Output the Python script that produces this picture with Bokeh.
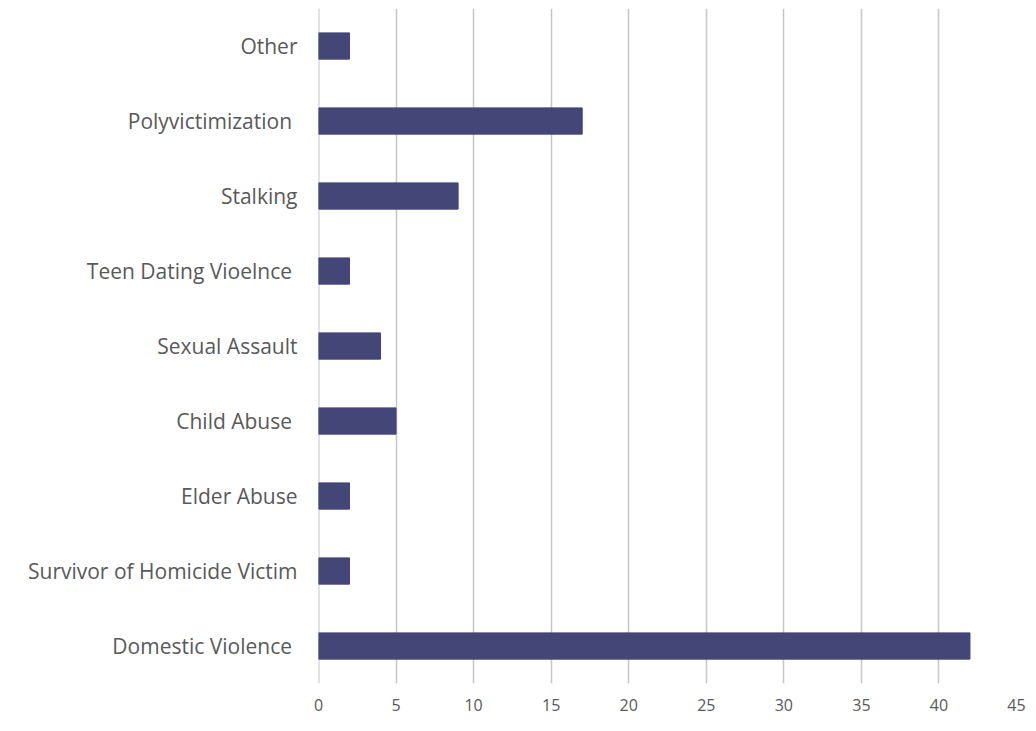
from bokeh.plotting import figure
from bokeh.models import FactorRange, Range1d, FixedTicker, Span
from bokeh.embed import file_html
from bokeh.resources import INLINE

categories = ["Domestic Violence ", "Survivor of Homicide Victim", "Elder Abuse", "Child Abuse ",
              "Sexual Assault", "Teen Dating Vioelnce ", "Stalking", "Polyvictimization ", "Other"]
values = [42, 2, 2, 5, 4, 2, 9, 17, 2]
x_ticks = [0, 5, 10, 15, 20, 25, 30, 35, 40, 45]

p = figure(width=1028, height=723, output_backend="svg", toolbar_location=None,
           y_range=FactorRange(*categories, range_padding=0), x_range=Range1d(0, 45),
           min_border_left=318, min_border_right=12, min_border_top=8, min_border_bottom=40)
p.outline_line_color = None
p.add_layout(Span(location=0, dimension="height", line_color="#c6c6c6", line_width=2, level="underlay"))
p.hbar(y=categories, right=values, left=0, height=0.35, color="#434677")

p.xaxis.ticker = FixedTicker(ticks=x_ticks)
p.xgrid.ticker = FixedTicker(ticks=x_ticks)
p.xgrid.grid_line_color = "#c6c6c6"
p.xgrid.grid_line_width = 1.5
p.ygrid.grid_line_color = None
p.xaxis.axis_line_color = None
p.xaxis.major_tick_line_color = None
p.xaxis.minor_tick_line_color = None
p.xaxis.major_label_text_font = "Open Sans"
p.xaxis.major_label_text_font_size = "16px"
p.xaxis.major_label_text_color = "#595959"
p.xaxis.major_label_standoff = 9
p.yaxis.axis_line_color = None
p.yaxis.major_tick_line_color = None
p.yaxis.major_label_text_font = "Open Sans"
p.yaxis.major_label_text_font_size = "21px"
p.yaxis.major_label_text_color = "#595959"
p.yaxis.major_label_standoff = 15

open("out.html", "w").write(file_html(p, INLINE))
